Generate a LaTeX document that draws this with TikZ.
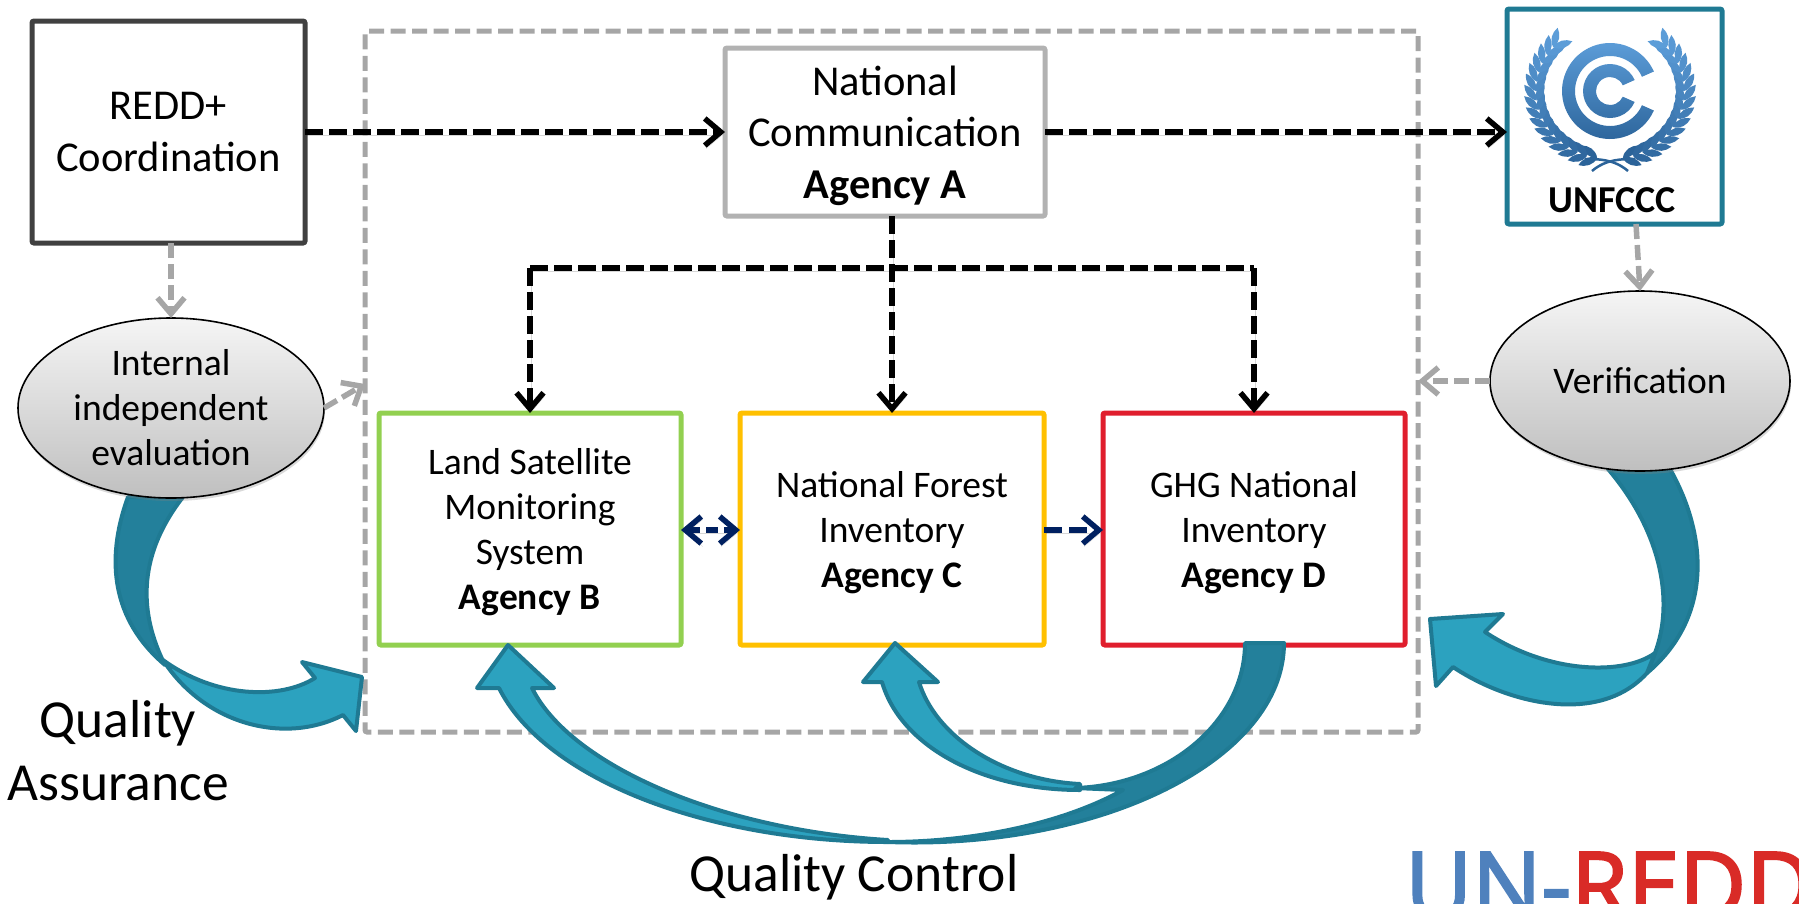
\documentclass[tikz,border=0pt]{standalone}
\usepackage{fontspec}
\setmainfont{Carlito}
\usetikzlibrary{arrows.meta,shapes.geometric,shadows,calc}
\definecolor{qlight}{HTML}{2CA2BF}
\definecolor{qdark}{HTML}{23809B}
\definecolor{qedge}{HTML}{1F7A93}
\definecolor{navyarrow}{HTML}{002060}
\definecolor{framegray}{HTML}{A6A6A6}
\definecolor{wlight}{HTML}{5E9FDB}
\definecolor{wdark}{HTML}{2B6399}
\newcommand\tp{\rule{0pt}{.87em}}
\tikzset{
  x=1pt,y=-1pt,
  boxbase/.style={draw,fill=white,inner sep=0pt,outer sep=0pt,align=center,font=\fontsize{37.5}{45}\selectfont,rounded corners=2pt},
  soft/.style={preaction={draw=black,draw opacity=.16,transform canvas={shift={(1.5pt,-3pt)}}}},
  tipbarb/.style={-{Straight Barb[length=16pt,width=27pt,line width=5.5pt]}},
  blackarrow/.style={draw=black,line width=5.5pt,dash pattern=on 18pt off 6pt,tipbarb,soft},
  blackline/.style={draw=black,line width=5.5pt,dash pattern=on 18pt off 6pt,soft},
  grayarrow/.style={draw=framegray,line width=5.5pt,dash pattern=on 15pt off 6pt,tipbarb},
  navyar/.style={draw=navyarrow,line width=5.5pt,dash pattern=on 18pt off 7pt,tipbarb,soft},
  navydbl/.style={draw=navyarrow,line width=5.5pt,dash pattern=on 12pt off 6pt,{Straight Barb[length=16pt,width=27pt,line width=5.5pt]}-{Straight Barb[length=16pt,width=27pt,line width=5.5pt]},soft},
  evalell/.style={ellipse,draw=black,line width=1.6pt,inner sep=0pt,outer sep=0pt,top color=white!96!black,bottom color=black!25,align=center,
     drop shadow={opacity=.3,shadow xshift=1pt,shadow yshift=-3pt},font=\fontsize{37.5}{45}\selectfont},
  qfl/.style={fill=qlight,draw=qedge,line width=4pt,line join=round},
  qfd/.style={fill=qdark,draw=qedge,line width=4pt,line join=round},
  biglabel/.style={inner sep=0pt,align=center,font=\fontsize{53.5}{63}\selectfont},
}
\begin{document}
\begin{tikzpicture}
\useasboundingbox (0,0) rectangle (1799,903);
% frame
\node[draw=framegray,line width=5pt,dash pattern=on 15pt off 6.5pt,rounded corners=2pt,inner sep=0pt,outer sep=0pt,minimum width=1053pt,minimum height=701pt] (frame) at (891.5,381.5) {};
% boxes
\node[boxbase,draw=black!75,line width=5pt,minimum width=273pt,minimum height=222pt,font=\fontsize{42.5}{51.5}\selectfont] (redd) at (168.5,132) {REDD+\\Coordination};
\node[boxbase,draw=black!30,line width=5pt,minimum width=320pt,minimum height=168pt,font=\fontsize{42.5}{51.5}\selectfont] (natcom) at (885,132) {\tp National\\Communication\\\textbf{Agency A}};
\node[boxbase,draw=qedge,line width=5pt,minimum width=215pt,minimum height=215pt] (unfccc) at (1614.5,116.5) {};
\node[boxbase,draw={rgb,255:red,146;green,208;blue,80},line width=5pt,minimum width=302pt,minimum height=232pt] (land) at (530,529) {\tp Land Satellite\\Monitoring\\System\\\textbf{Agency B}};
\node[boxbase,draw={rgb,255:red,255;green,192;blue,0},line width=5pt,minimum width=304pt,minimum height=232pt] (forest) at (892,529) {\tp National Forest\\Inventory\\\textbf{Agency C}};
\node[boxbase,draw={rgb,255:red,224;green,30;blue,45},line width=5pt,minimum width=302pt,minimum height=232pt] (ghg) at (1254,529) {\tp GHG National\\Inventory\\\textbf{Agency D}};
% UNFCCC logo
\begin{scope}[shift={(1610,91)}]
  \shade[top color=wlight,bottom color=wdark,even odd rule]
    (24:48) arc[start angle=24,end angle=336,radius=48] -- (336:35) arc[start angle=336,end angle=24,radius=35] -- cycle
    (24:27) arc[start angle=24,end angle=336,radius=27] -- (336:14) arc[start angle=336,end angle=24,radius=14] -- cycle;
  \foreach \s in {1,-1}{
    \begin{scope}[xscale=\s]
      \foreach \t in {100,108,...,226}{
        \pgfmathtruncatemacro\m{(226-\t)/1.26}
        \pgfmathsetmacro\px{-abs(74*cos(\t))}
        \pgfmathsetmacro\py{68*sin(\t)}
        \pgfmathsetmacro\ang{atan2(-68*cos(\t),-74*sin(\t))}
        \foreach \off in {-30,30}{
          \fill[wdark!\m!wlight,shift={(\px,\py)},rotate=\ang+\off]
            (0,0) .. controls (6,5.5) and (14,4.5) .. (20,0) .. controls (14,-4.5) and (6,-5.5) .. (0,0) -- cycle;
        }
      }
      \draw[wdark,line width=2.5pt] (-25,68) .. controls (-12,68) and (4,68) .. (18,80);
    \end{scope}
  }
\end{scope}
\node[inner sep=0pt,font=\fontsize{38}{38}\selectfont\bfseries] (unfccctext) at (1612,200) {UNFCCC};
% Quality arrows: assurance
\draw[qfd] (128,497) .. controls (105,560) and (112,620) .. (165,665) .. controls (145,625) and (130,565) .. (183,497) -- cycle;
\draw[qfl] (163,660) .. controls (205,725) and (285,745) .. (343,715) -- (356,731) -- (362,677) -- (302,662) -- (315,678) .. controls (280,700) and (215,698) .. (163,660) -- cycle;
% verification
\draw[qfd] (1608,469) .. controls (1660,530) and (1675,600) .. (1655,653) -- (1647,673) .. controls (1710,620) and (1710,540) .. (1670,469) -- cycle;
\draw[qfl] (1655,653) .. controls (1625,675) and (1550,675) .. (1485,632) -- (1503,614) -- (1430,619) -- (1436,686) -- (1453,667) .. controls (1510,705) and (1600,725) .. (1647,673) -- cycle;
% quality control
\draw[qfl] (888,842) .. controls (710,842) and (545,780) .. (499,688) -- (477,688) -- (508,645) -- (554,688) -- (532,688) .. controls (570,765) and (720,830) .. (888,840) -- cycle;
\draw[qfl] (1080,790) .. controls (980,790) and (900,745) .. (882,682) -- (863,682) -- (895,643) -- (938,682) -- (919,682) .. controls (935,735) and (1000,780) .. (1080,784) -- cycle;
\draw[qfd] (1245,643) .. controls (1245,720) and (1170,785) .. (1075,788) -- (1123,790) .. controls (1060,825) and (970,842) .. (888,842) .. controls (1100,850) and (1284,760) .. (1284,643) -- cycle;
% ellipses
\node[evalell,minimum width=306pt,minimum height=180pt] (internal) at (171,408) {Internal\\independent\\evaluation};
\node[evalell,minimum width=300pt,minimum height=180pt] (verif) at (1640,381) {Verification};
% connectors
\coordinate (bus) at (892,268);
\coordinate (frameIn) at (365,384);
\draw[blackarrow] (redd.east |- natcom.west) -- (natcom.west);
\draw[blackarrow] (natcom.east) -- (natcom.east -| unfccc.west);
\draw[blackarrow] (natcom.south -| forest.north) -- (forest.north);
\draw[blackline] (land.north |- bus) -- (ghg.north |- bus);
\draw[blackarrow] (land.north |- bus) -- (land.north);
\draw[blackarrow] (ghg.north |- bus) -- (ghg.north);
\draw[grayarrow] (redd.south -| internal.north) -- (internal.north);
\draw[grayarrow] (unfccc.south -| 1636,0) -- (verif.north);
\draw[grayarrow] (internal.east) -- (frameIn);
\draw[grayarrow] (verif.west) -- (verif.west -| frame.east);
\draw[navydbl] ([yshift=-1pt]land.east) -- ([yshift=-1pt]forest.west);
\draw[navyar] ([yshift=-1pt]forest.east) -- ([yshift=-1pt]ghg.west);
% labels
\node[biglabel] (qa) at (118,751) {Quality\\Assurance};
\node[biglabel] (qc) at (854,877) {Quality Control};
% logo text
\begin{scope}
  \clip (1380,830) rectangle (1799,903);
  \node[anchor=base west,inner sep=0pt,font=\fontsize{92}{92}\selectfont] (unredd) at (1405,918) {\fontspec[FakeBold=2.5]{Open Sans}\textcolor[HTML]{4F81BD}{UN-}\textcolor[HTML]{D92B27}{REDD}};
\end{scope}
\end{tikzpicture}
\end{document}
